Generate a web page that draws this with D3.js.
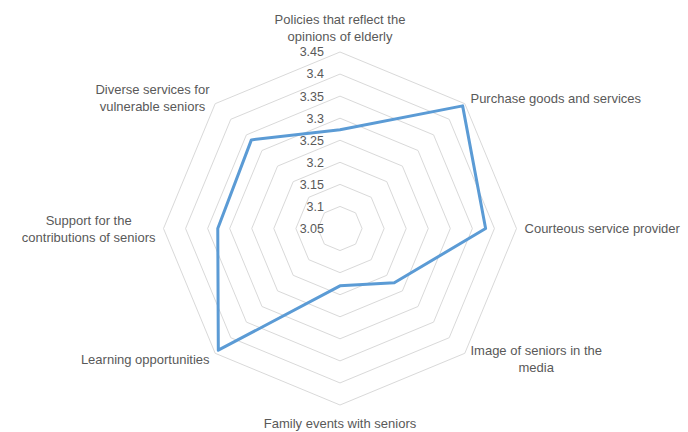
<!DOCTYPE html>
<html>
<head>
<meta charset="utf-8">
<script src="https://cdn.jsdelivr.net/npm/d3@7"></script>
<style>
  body { margin: 0; background: #fff; }
  text { font-family: "Liberation Sans", Arial, sans-serif; fill: #595959; }
</style>
</head>
<body>
<div id="chart"></div>
<script>
// radar chart - scores per item
const categories = [
    ["Policies that reflect the", "opinions of elderly"],
    ["Purchase goods and services"],
    ["Courteous service provider"],
    ["Image of seniors in the", "media"],
    ["Family events with seniors"],
    ["Learning opportunities"],
    ["Support for the", "contributions of seniors"],
    ["Diverse services for", "vulnerable seniors"]
]
const scores = [3.274, 3.443, 3.38, 3.224, 3.18, 3.44, 3.327, 3.334]
const tickValues = [3.05, 3.1, 3.15, 3.2, 3.25, 3.3, 3.35, 3.4, 3.45]

const width = 688, height = 432
const cx = 340, cy = 228.5, R = 176.5
const n = categories.length
const lineH = 17

let svg = d3.select("#chart")
            .append("svg")
                .attr("width", width)
                .attr("height", height)
let g = svg.append("g").attr("transform", `translate(${cx},${cy})`)

let r = d3.scaleLinear()
            .domain([tickValues[0], tickValues[tickValues.length - 1]])
            .range([0, R])
let angle = d3.scaleLinear().domain([0, n]).range([0, 2 * Math.PI])

// rings
let ring = d3.lineRadial()
            .angle((d, i) => angle(i))
            .radius(d => r(d))
            .curve(d3.curveLinearClosed)

g.selectAll("path.ring")
    .data(tickValues.slice(1))
    .enter().append("path")
        .attr("class", "ring")
        .attr("d", t => ring(d3.range(n).map(() => t)))
        .attr("fill", "none")
        .attr("stroke", "#d9d9d9")
        .attr("stroke-width", 1)

// value labels
g.selectAll("text.tick")
    .data(tickValues)
    .enter().append("text")
        .attr("class", "tick")
        .attr("x", -16)
        .attr("y", d => -r(d))
        .attr("dy", "0.35em")
        .attr("text-anchor", "end")
        .style("font-size", "12.5px")
        .text(d => d)

// series
let series = d3.lineRadial()
            .angle((d, i) => angle(i))
            .radius(d => r(d))
            .curve(d3.curveLinearClosed)

g.append("path")
    .datum(scores)
    .attr("d", series)
    .attr("fill", "none")
    .attr("stroke", "#5b9bd5")
    .attr("stroke-width", 3)
    .attr("stroke-linejoin", "round")

// category labels
categories.forEach((lines, i) => {
    let a = angle(i)
    let sx = Math.sin(a), sy = -Math.cos(a)
    let ax = (R + 8) * sx, ay = (R + 8) * sy
    let lab = g.append("g")
    let texts = lines.map((s, k) => lab.append("text")
                        .attr("text-anchor", "middle")
                        .attr("dy", "0.35em")
                        .attr("y", k * lineH)
                        .style("font-size", "13px")
                        .text(s))
    let w = d3.max(texts, t => t.node().getComputedTextLength())
    let bh = (lines.length - 1) * lineH
    let x0 = ax, y0
    if (sx > 0.01) x0 = ax + w / 2
    else if (sx < -0.01) x0 = ax - w / 2
    if (sy < -0.99) y0 = ay - 8 - bh
    else if (sy > 0.99) y0 = ay + 10
    else y0 = ay - bh / 2
    texts.forEach(t => t.attr("x", 0))
    lab.attr("transform", `translate(${x0},${y0})`)
})
</script>
</body>
</html>
